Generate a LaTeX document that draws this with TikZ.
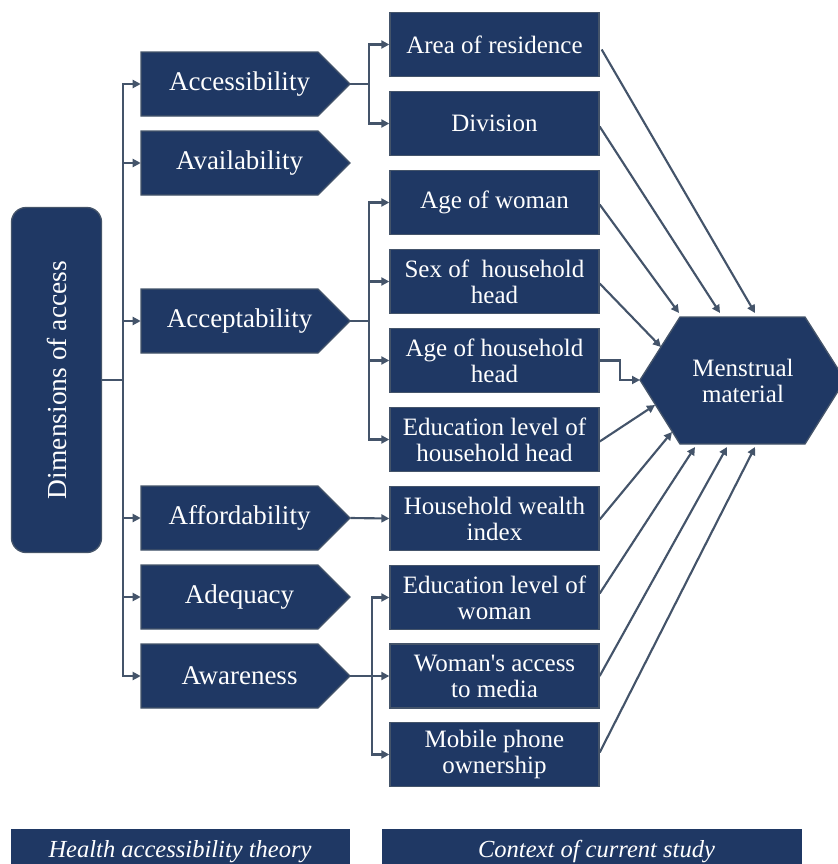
\documentclass[tikz,border=0pt]{standalone}
\usepackage{fontspec}
\setmainfont{LiberationSerif}[Extension=.ttf,UprightFont=*-Regular,BoldFont=*-Bold,ItalicFont=*-Italic,BoldItalicFont=*-BoldItalic]
\usetikzlibrary{arrows.meta,calc}
\definecolor{boxfill}{RGB}{31,56,100}
\definecolor{boxline}{RGB}{68,84,106}
\begin{document}
\begin{tikzpicture}[x=0.75pt,y=-0.75pt,
  box/.style={draw=boxline, line width=1pt, fill=boxfill, text=white,
    minimum width=156.75pt, minimum height=48pt, inner sep=0pt, align=center,
    font=\fontsize{18.75}{19.5}\selectfont},
  pent/.style={draw=boxline, line width=1pt, fill=boxfill},
  pnode/.style={inner sep=0pt, minimum width=156.75pt, minimum height=48pt},
  plabel/.style={text=white, inner sep=0pt, font=\fontsize{20.25}{22}\selectfont},
  hexlabel/.style={text=white, inner sep=0pt, align=center,
    font=\fontsize{18.75}{19.5}\selectfont},
  dimbox/.style={draw=boxline, line width=1pt, fill=boxfill, text=white,
    rounded corners=11pt, minimum width=67.5pt, minimum height=258.75pt, inner sep=0pt,
    font=\fontsize{20.6}{22}\selectfont},
  botbox/.style={fill=boxfill, inner sep=0pt, anchor=north west, minimum height=40pt},
  bottext/.style={text=white, inner sep=0pt, anchor=base,
    font=\fontsize{18.4}{20}\selectfont\itshape},
  conn/.style={draw=boxline, line width=1.6pt, -{Triangle[length=6pt,width=6pt]}}
]
\useasboundingbox (0,0) rectangle (838,864);

% left rounded box
\node[dimbox] (dim) at (56.5,380) {\rotatebox{90}{Dimensions of access}};

% pentagons
\newcommand\mkpent[3]{%
  \draw[pent] (141,#2-32) -- (318,#2-32) -- (350,#2) -- (318,#2+32) -- (141,#2+32) -- cycle;
  \node[pnode] (#1) at (245.5,#2) {};
  \node[plabel] (#1-t) at (239.5,#2) {#3};}
\mkpent{acc}{84}{Accessibility}
\mkpent{ava}{163}{Availability}
\mkpent{acp}{321}{Acceptability}
\mkpent{aff}{518}{Affordability}
\mkpent{adq}{597}{Adequacy}
\mkpent{awa}{676}{Awareness}

% right boxes
\node[box] (area) at (494.5,44.5) {Area of residence};
\node[box] (div)  at (494.5,123.5) {Division};
\node[box] (agw)  at (494.5,202.5) {Age of woman};
\node[box] (sex)  at (494.5,281.5) {Sex of\ \ household\\head};
\node[box] (agh)  at (494.5,360.5) {Age of household\\head};
\node[box] (edh)  at (494.5,439.5) {Education level of\\household head};
\node[box] (wea)  at (494.5,518.5) {Household wealth\\index};
\node[box] (edw)  at (494.5,597.5) {Education level of\\woman};
\node[box] (wam)  at (494.5,676) {Woman\textquotesingle s access\\to media};
\node[box] (mob)  at (494.5,754.5) {Mobile phone\\ownership};

% hexagon
\draw[pent] (640,380) -- (680,317) -- (805,317) -- (845,380) -- (805,444) -- (680,444) -- cycle;
\node[hexlabel] (mm) at (743,381) {Menstrual\\material};
\coordinate (hL) at (640,380);
\coordinate (hA) at (755,313);
\coordinate (hB) at (720,313);
\coordinate (hC) at (679,313);
\coordinate (hD) at (661,347);
\coordinate (hE) at (655,405);
\coordinate (hF) at (672,432);
\coordinate (hG) at (695,447);
\coordinate (hH) at (727,447);
\coordinate (hI) at (755,447);

% left trunk
\foreach \t in {acc,ava,acp,aff,adq,awa}
  \draw[conn] (dim.east) -- ++(21,0) |- (\t.west);

% branches
\foreach \t in {area,div}
  \draw[conn] (acc.east) -- ++(19,0) |- (\t.west);
\foreach \t in {agw,sex,agh,edh}
  \draw[conn] (acp.east) -- ++(19,0) |- (\t.west);
\draw[conn] (aff.east) -- (wea.west);
\foreach \t in {edw,wam,mob}
  \draw[conn] (awa.east) -- ++(22,0) |- (\t.west);

% to hexagon
\draw[conn] ($(area.east)+(2,5)$) -- (hA);
\draw[conn] ($(div.east)+(0,3)$) -- (hB);
\draw[conn] ($(agw.east)+(0,2)$) -- (hC);
\draw[conn] ($(sex.east)+(0,2)$) -- (hD);
\draw[conn] (agh.east) -- ++(20,0) |- (hL);
\draw[conn] ($(edh.east)+(0,2)$) -- (hE);
\draw[conn] ($(wea.east)+(0,1)$) -- (hF);
\draw[conn] ($(edw.east)+(0,-4)$) -- (hG);
\draw[conn] (wam.east) -- (hH);
\draw[conn] ($(mob.east)+(0,-2)$) -- (hI);

% bottom bars
\node[botbox, minimum width=254.25pt] (hat) at (11,829) {};
\node[bottext] (hatt) at (180,857) {Health accessibility theory};
\node[botbox, minimum width=315pt] (ccs) at (382,829) {};
\node[bottext] (ccst) at (596.5,857) {Context of current study};
\end{tikzpicture}
\end{document}
